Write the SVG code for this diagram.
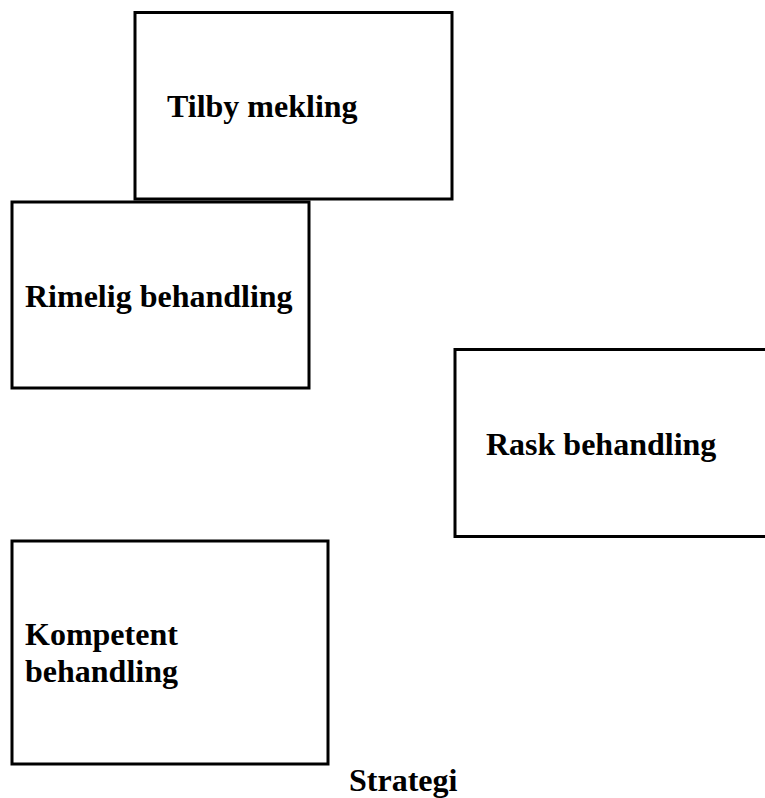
<svg xmlns="http://www.w3.org/2000/svg" width="765" height="798" viewBox="0 0 765 798">
<style>
.box{fill:#fff;stroke:#000;stroke-width:3}
.lbl{font-family:"Liberation Serif","Times New Roman",serif;font-weight:bold;font-size:32px;fill:#000}
</style>
<rect width="765" height="798" fill="#fff"/>
<g id="tilby-mekling">
<rect class="box" x="135" y="12.5" width="317" height="186.5"/>
<text class="lbl" x="167" y="117">Tilby mekling</text>
</g>
<g id="rimelig-behandling">
<rect class="box" x="12" y="202" width="297" height="186"/>
<text class="lbl" x="25" y="307">Rimelig behandling</text>
</g>
<g id="rask-behandling">
<rect class="box" x="455" y="349.5" width="320" height="187"/>
<text class="lbl" x="486" y="455">Rask behandling</text>
</g>
<g id="kompetent-behandling">
<rect class="box" x="12" y="541" width="316" height="223"/>
<text class="lbl" x="25" y="645">Kompetent</text>
<text class="lbl" x="25" y="682">behandling</text>
</g>
<g id="connectors"></g>
<text class="lbl" x="349" y="791">Strategi</text>
</svg>
